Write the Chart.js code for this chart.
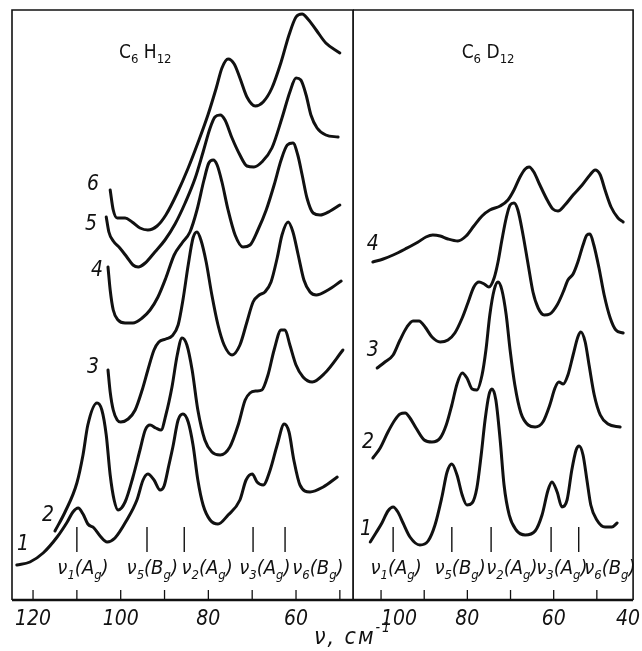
<!DOCTYPE html>
<html>
<head>
<meta charset="utf-8">
<script src="https://cdn.jsdelivr.net/npm/chart.js@4.4.1/dist/chart.umd.min.js"></script>
<style>
  body { margin: 0; background: #fff; width: 642px; height: 651px; position: relative; overflow: hidden; }
  canvas { position: absolute; top: 0; }
  #h12 { left: 0; }
  #d12 { left: 353px; }
  #xtitle {
    position: absolute; left: 0; width: 706px; top: 622px; text-align: center;
    font: italic 23px "Liberation Sans Narrow", "DejaVu Sans Condensed", sans-serif;
    letter-spacing: 2px; color: #111;
  }
  #xtitle sup { font-size: 14px; position: relative; top: -3px; }
</style>
</head>
<body>
<canvas id="h12" width="354" height="651"></canvas>
<canvas id="d12" width="289" height="651"></canvas>
<div id="xtitle">ν, см<sup>-1</sup></div>
<script>
const FONT = '"Liberation Sans Narrow", "DejaVu Sans Condensed", "Liberation Sans", sans-serif';
const INK = '#111';

// wavenumber ranges of the two panels (cm-1)
const h12Range = [47.0, 124.8];
const d12Range = [40, 106.5];
const d12FrameEnd = 41.6;

// C6H12 spectra, [wavenumber, intensity] (curves 1..6, bottom to top)
const h12Curve1 = [[123.7,35],[120.7,38],[117.7,47],[114.5,63],[112.2,78],[110.9,88],[109.7,92],[108.6,86],[107.5,76],[106.1,72],[104.7,64],[103.1,58],[101.3,62],[98.6,80],[96.3,100],[94.9,120],[93.8,126],[92.4,120],[91.0,110],[90.1,114],[89.0,135],[88.1,153],[86.9,180],[85.8,186],[84.6,178],[83.5,155],[82.4,120],[81.2,95],[79.6,80],[77.8,76],[75.5,85],[72.8,100],[71.4,120],[70.0,126],[68.9,118],[67.5,115],[65.9,130],[64.3,155],[62.7,176],[61.6,168],[60.5,140],[59.1,115],[56.8,108],[53.8,113],[50.6,123]];
const h12Curve2 = [[115.0,69],[112.7,88],[110.0,117],[108.6,145],[107.5,175],[105.4,197],[104.3,190],[103.3,165],[102.4,125],[101.5,100],[100.6,90],[99.0,98],[97.2,123],[95.6,150],[94.4,170],[93.3,175],[92.0,172],[90.8,170],[89.7,185],[88.3,213],[87.1,245],[86.0,262],[84.9,255],[83.7,230],[82.4,190],[80.8,160],[79.2,148],[77.3,145],[75.1,153],[73.2,175],[71.6,200],[70.5,207],[69.1,209],[67.8,210],[66.4,225],[65.0,250],[63.4,270],[62.5,270],[61.4,255],[60.0,235],[58.4,223],[56.3,218],[53.4,227],[49.3,250]];
const h12Curve3 = [[102.9,230],[102.4,208],[101.7,190],[100.8,180],[100.0,178],[98.3,181],[96.7,190],[95.1,210],[93.8,230],[92.4,250],[91.3,258],[89.7,261],[88.3,264],[86.9,275],[85.8,300],[84.6,335],[83.5,362],[82.6,368],[81.7,360],[80.5,338],[79.2,305],[77.8,275],[76.4,255],[74.6,245],[72.8,255],[71.2,278],[69.8,298],[68.4,305],[67.1,308],[65.7,318],[64.3,342],[63.2,365],[61.8,378],[60.7,368],[59.5,345],[58.2,320],[56.8,308],[55.4,305],[52.7,310],[49.7,319]];
const h12Curve4 = [[102.9,333],[102.4,310],[101.7,290],[100.6,280],[99.0,277],[97.2,277],[95.1,282],[93.3,290],[91.5,303],[89.7,322],[87.8,345],[86.0,357],[84.2,368],[82.6,390],[81.0,420],[79.9,437],[78.9,440],[78.0,435],[76.9,418],[75.5,390],[73.9,365],[72.1,353],[70.5,355],[68.7,370],[66.8,390],[65.0,415],[63.4,440],[62.0,455],[60.7,457],[59.6,445],[58.6,425],[57.5,402],[56.1,387],[54.5,385],[52.2,389],[50.0,395]];
const h12Curve5 = [[103.3,383],[102.7,368],[101.7,359],[100.2,352],[98.6,343],[97.2,335],[96.0,333],[94.4,337],[92.2,348],[89.9,360],[87.6,376],[85.3,397],[83.0,422],[81.2,448],[79.6,472],[78.5,483],[77.3,485],[76.2,480],[74.6,462],[72.8,445],[71.2,434],[69.6,433],[67.8,438],[65.5,452],[63.2,482],[61.4,508],[60.0,522],[58.9,520],[57.7,505],[56.6,485],[55.2,472],[53.2,465],[50.4,463]];
const h12Curve6 = [[102.4,410],[101.7,390],[100.8,382],[99.0,382],[97.4,378],[95.6,372],[93.8,370],[91.7,374],[89.7,385],[87.1,407],[84.6,432],[82.4,457],[80.1,485],[78.2,512],[76.9,532],[75.5,541],[74.1,536],[72.8,522],[71.2,503],[69.3,494],[67.5,498],[65.5,512],[63.4,538],[61.6,565],[60.0,583],[58.6,586],[57.3,581],[55.4,570],[53.2,557],[50.0,547]];

// C6D12 spectra (curves 1..4)
const d12Curve1 = [[102.5,58],[101.2,67],[99.8,77],[98.4,89],[97.2,93],[96.1,88],[94.9,77],[93.3,63],[91.0,55],[89.1,59],[87.5,75],[85.9,103],[84.7,128],[83.6,136],[82.4,125],[81.2,105],[80.1,95],[78.9,97],[77.8,112],[76.8,145],[75.9,180],[75.0,205],[74.3,211],[73.4,200],[72.4,160],[71.5,115],[70.3,85],[68.7,70],[66.6,65],[64.3,69],[62.7,85],[61.3,110],[60.4,118],[59.2,108],[58.1,93],[56.9,100],[55.8,130],[54.8,150],[54.1,154],[53.2,145],[52.3,120],[51.4,95],[50.0,80],[48.1,73],[46.5,73],[45.3,77]];
const d12Curve2 = [[101.9,142],[100.2,152],[98.4,168],[96.8,180],[95.6,186],[94.4,187],[93.3,182],[91.9,172],[90.0,160],[88.2,158],[86.3,162],[84.9,175],[83.6,195],[82.4,216],[81.2,227],[80.1,222],[78.9,211],[77.8,210],[76.6,225],[75.7,250],[74.8,285],[73.8,310],[72.9,318],[72.0,310],[71.0,285],[70.1,250],[69.0,215],[67.6,187],[65.9,175],[64.3,173],[62.5,178],[60.9,195],[59.7,212],[58.8,218],[57.8,216],[56.7,225],[55.5,245],[54.4,263],[53.7,268],[52.7,258],[51.8,235],[50.6,205],[49.2,185],[47.4,176],[44.6,173]];
const d12Curve3 = [[100.9,232],[99.1,238],[97.2,245],[95.6,260],[94.0,273],[92.6,279],[91.2,279],[89.8,273],[88.2,263],[86.3,258],[84.5,260],[82.9,267],[81.2,282],[79.8,298],[78.5,313],[77.3,318],[76.1,316],[75.0,313],[73.8,322],[72.9,338],[72.0,360],[71.0,382],[70.1,395],[69.2,397],[68.3,390],[67.1,365],[65.9,335],[64.8,308],[63.6,292],[62.2,285],[60.9,286],[59.2,295],[57.8,308],[56.7,320],[55.5,326],[54.4,338],[53.2,355],[52.3,365],[51.6,366],[50.7,355],[49.5,332],[48.3,305],[46.9,282],[45.6,270],[43.9,267]];
const d12Curve4 = [[101.9,338],[99.5,341],[97.2,345],[94.4,351],[91.4,358],[89.6,363],[88.0,365],[86.3,364],[84.5,361],[82.2,359],[80.3,364],[78.5,374],[76.6,384],[74.8,390],[72.4,394],[70.6,400],[69.2,410],[67.8,423],[66.6,431],[65.7,433],[64.6,428],[63.2,415],[61.5,400],[60.2,391],[59.0,389],[57.4,395],[55.5,405],[53.4,415],[51.6,425],[50.4,430],[49.2,425],[48.1,410],[46.7,393],[45.1,382],[43.9,378]];

// assigned band positions (cm-1) and names
const h12Bands = [110.0, 94.0, 85.5, 69.8, 62.5];
const d12Bands = [97.2, 83.6, 74.5, 60.6, 54.2];
const bandNames = [['1', 'A'], ['5', 'B'], ['2', 'A'], ['3', 'A'], ['6', 'B']];
const h12BandText = [108.6, 92.8, 80.3, 67.1, 55.0];
const d12BandText = [96.5, 81.7, 69.7, 58.1, 47.0];

// where the curve numbers sit
const h12Numbers = [['1', 122.3, 58], ['2', 116.6, 87], ['3', 106.3, 235], ['4', 105.4, 332], ['5', 106.8, 378], ['6', 106.3, 418]];
const d12Numbers = [['1', 103.5, 73], ['2', 103.0, 160], ['3', 101.9, 252], ['4', 101.9, 358]];

function richText(ctx, parts, cx, cy, size, italic) {
  const big = (italic ? 'italic ' : '') + size + 'px ' + FONT;
  const small = (italic ? 'italic ' : '') + Math.round(size * 0.66) + 'px ' + FONT;
  let w = 0;
  parts.forEach(p => { ctx.font = p.sub ? small : big; p.w = ctx.measureText(p.t).width; w += p.w; });
  let x = cx - w / 2;
  ctx.textAlign = 'left';
  ctx.textBaseline = 'alphabetic';
  parts.forEach(p => {
    ctx.font = p.sub ? small : big;
    ctx.fillText(p.t, x, cy + size * 0.36 + (p.sub ? size * 0.26 : 0));
    x += p.w;
  });
}

const panelArt = {
  id: 'panelArt',
  afterDatasetsDraw(chart, args, opts) {
    const { ctx, chartArea: a } = chart;
    const x = chart.scales.x, y = chart.scales.y;
    const right = opts.frameTo != null ? x.getPixelForValue(opts.frameTo) : a.right;
    ctx.save();
    ctx.strokeStyle = INK;
    ctx.fillStyle = INK;
    ctx.lineWidth = 1.6;
    ctx.beginPath();
    ctx.moveTo(a.left, a.bottom);
    ctx.lineTo(a.left, a.top);
    ctx.lineTo(right, a.top);
    ctx.lineTo(right, a.bottom);
    ctx.stroke();
    ctx.lineWidth = 2.6;
    ctx.beginPath();
    ctx.moveTo(a.left, a.bottom);
    ctx.lineTo(right, a.bottom);
    ctx.stroke();

    // ticks point into the plot
    ctx.lineWidth = 1.3;
    x.ticks.forEach(t => {
      const px = x.getPixelForValue(t.value);
      if (px <= a.left + 2 || px >= right - 2) return;
      ctx.beginPath();
      ctx.moveTo(px, a.bottom);
      ctx.lineTo(px, a.bottom - 10);
      ctx.stroke();
    });

    richText(ctx, opts.title.parts, x.getPixelForValue(opts.title.at[0]), y.getPixelForValue(opts.title.at[1]), 19, false);

    opts.numbers.forEach(([t, nu, v]) => {
      richText(ctx, [{ t }], x.getPixelForValue(nu), y.getPixelForValue(v), 21, true);
    });

    opts.bandText.forEach((nu, i) => {
      const [d, s] = bandNames[i];
      richText(ctx, [{ t: 'ν' }, { t: d, sub: true }, { t: '(' }, { t: s }, { t: 'g', sub: true }, { t: ')' }],
        x.getPixelForValue(nu), y.getPixelForValue(33), 20, true);
    });
    ctx.restore();
  }
};

function curveSet(pts) {
  return {
    data: pts.map(([x, y]) => ({ x, y })),
    borderColor: INK, borderWidth: 3, pointRadius: 0,
    cubicInterpolationMode: 'monotone', borderCapStyle: 'round', borderJoinStyle: 'round'
  };
}
function bandSet(nu) {
  return { data: [{ x: nu, y: 48 }, { x: nu, y: 73 }], borderColor: INK, borderWidth: 1.4, pointRadius: 0, tension: 0 };
}

function makePanel(id, curves, bands, range, pad, art, tickAlign) {
  new Chart(document.getElementById(id), {
    type: 'line',
    data: { datasets: curves.map(curveSet).concat(bands.map(bandSet)) },
    options: {
      responsive: false,
      animation: false,
      events: [],
      layout: { autoPadding: false, padding: pad },
      plugins: { legend: { display: false }, tooltip: { enabled: false }, panelArt: art },
      scales: {
        x: {
          type: 'linear', reverse: true, min: range[0], max: range[1],
          afterFit: s => { s.height = 51; },
          // list ticks left to right so 'inner' keeps the end labels inside
          afterBuildTicks: s => { s.ticks.reverse(); },
          grid: { display: false, drawTicks: false },
          border: { display: false },
          ticks: {
            stepSize: 10, includeBounds: false, autoSkip: false, maxRotation: 0,
            padding: 7, align: tickAlign, color: INK,
            font: { family: FONT, size: 21, style: 'italic' },
            callback: v => (v % 20 === 0 ? String(v) : '')
          }
        },
        y: { display: false, min: 0, max: 590 }
      }
    },
    plugins: [panelArt]
  });
}

makePanel('h12', [h12Curve1, h12Curve2, h12Curve3, h12Curve4, h12Curve5, h12Curve6], h12Bands, h12Range,
  { top: 10, left: 12, right: 1, bottom: 0 },
  { title: { at: [94.4, 549], parts: [{ t: 'C' }, { t: '6', sub: true }, { t: ' H' }, { t: '12', sub: true }] },
    numbers: h12Numbers, bandText: h12BandText }, 'center');

makePanel('d12', [d12Curve1, d12Curve2, d12Curve3, d12Curve4], d12Bands, d12Range,
  { top: 10, left: 0, right: 2, bottom: 0 },
  { frameTo: d12FrameEnd, title: { at: [75.2, 549], parts: [{ t: 'C' }, { t: '6', sub: true }, { t: ' D' }, { t: '12', sub: true }] },
    numbers: d12Numbers, bandText: d12BandText }, 'inner');
</script>
</body>
</html>
